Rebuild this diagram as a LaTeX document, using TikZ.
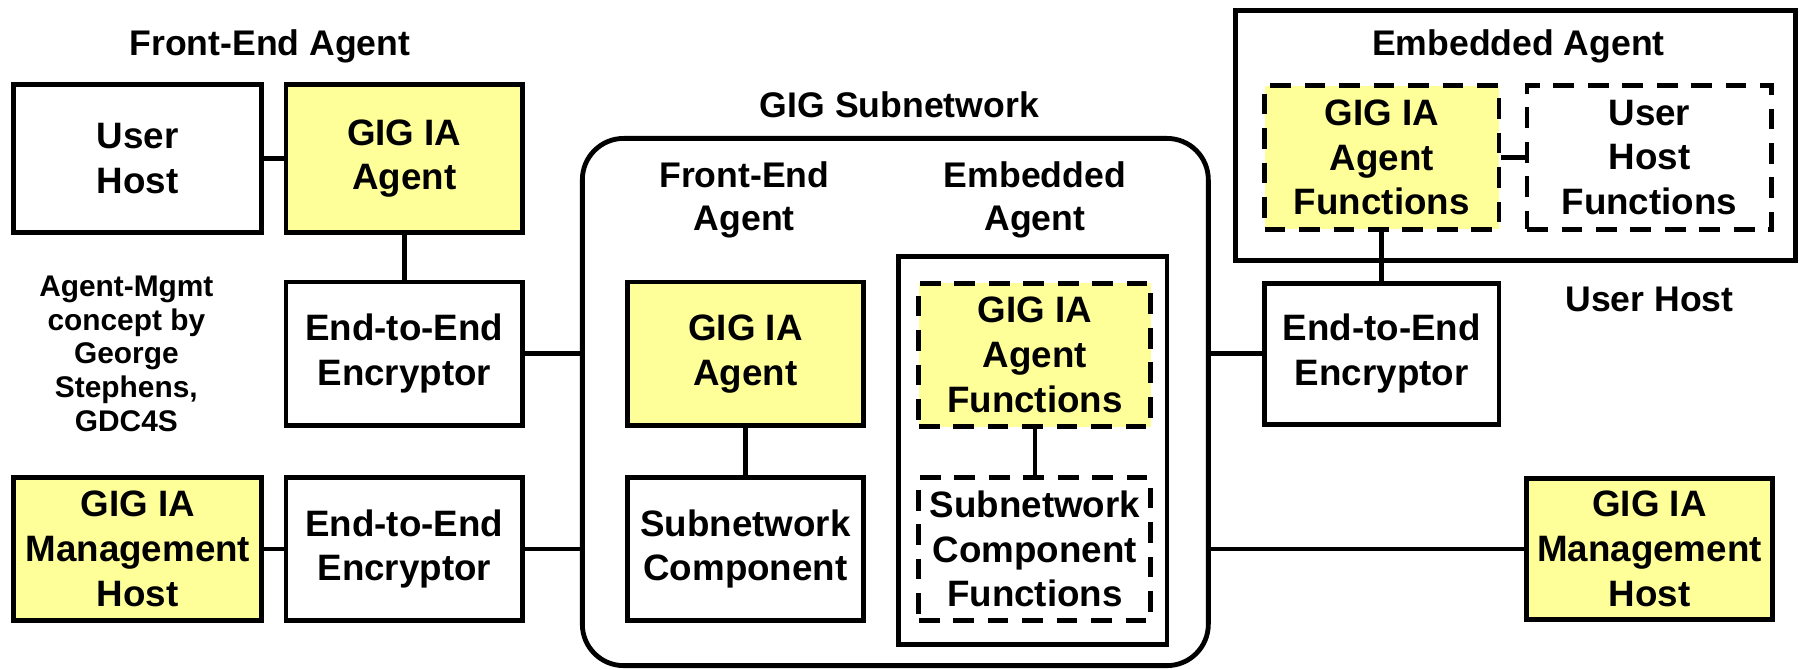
\documentclass[tikz,border=0pt]{standalone}
\usepackage{fontspec}
\setmainfont{Liberation Sans}
\definecolor{gigyellow}{HTML}{FFFF99}

\begin{document}
\begin{tikzpicture}[x=1pt,y=-1pt,line join=miter]
\tikzset{every node/.style={font=\fontsize{31}{37}\selectfont\bfseries,align=center,inner sep=0pt}}
\tikzset{box/.style={draw,line width=4.2pt,minimum width=206pt,minimum height=125pt,font=\fontsize{32}{39}\selectfont\bfseries},
  ybox/.style={box,fill=gigyellow},
  dbox/.style={box,dash pattern=on 18pt off 12pt},
  link/.style={line width=4pt}}
\useasboundingbox (0,0) rectangle (1568,583);
% front-end agent on the left
\node (feaT) at (235,40) {Front-End Agent};
\node[box,minimum width=216pt,minimum height=129pt] (uhost) at (120,138) {User\\Host};
\node[ybox,minimum height=129pt] (agentL) at (352,138) {GIG IA\\Agent};
\node[box] (e2eA) at (352,308) {End-to-End\\Encryptor};
\node[font=\fontsize{26}{29.5}\selectfont\bfseries] (note) at (110,308) {Agent-Mgmt\\concept by\\George\\Stephens,\\GDC4S};
\node[ybox,minimum width=216pt] (mgmtL) at (120,478) {GIG IA\\Management\\Host};
\node[box] (e2eB) at (352,478) {End-to-End\\Encryptor};
% subnetwork in the middle
\node (subT) at (783,91) {GIG Subnetwork};
\node[draw,line width=4.2pt,rounded corners=36pt,minimum width=545pt,minimum height=459pt] (subnet) at (779.5,350) {};
\node (feaM) at (648,174) {Front-End\\Agent};
\node (eaM) at (901,174) {Embedded\\Agent};
\node[ybox,minimum width=205pt] (agentM) at (649,308) {GIG IA\\Agent};
\node[box,minimum width=205pt] (compM) at (649,478) {Subnetwork\\Component};
\node[draw,line width=4.2pt,minimum width=234pt,minimum height=338pt] (embM) at (899,392) {};
\node[dbox,fill=gigyellow,minimum width=202pt] (funcM) at (901,309) {GIG IA\\Agent\\Functions};
\node[dbox,minimum width=202pt] (compfM) at (901,478) {Subnetwork\\Component\\Functions};
% embedded agent on the right
\node[draw,line width=4.2pt,minimum width=487pt,minimum height=218pt] (embR) at (1319.5,118) {};
\node (eaT) at (1322,40) {Embedded Agent};
\node[dbox,fill=gigyellow,minimum width=204pt] (funcR) at (1203,137) {GIG IA\\Agent\\Functions};
\node[dbox,minimum width=213pt] (uhostF) at (1436,137) {User\\Host\\Functions};
\node[box,minimum width=204pt,minimum height=123pt] (e2eC) at (1203,308) {End-to-End\\Encryptor};
\node (uhT) at (1436,261) {User Host};
\node[ybox,minimum width=214pt,minimum height=123pt] (mgmtR) at (1436,478) {GIG IA\\Management\\Host};
% links
\draw[link] (uhost) -- (agentL);
\draw[link] (agentL) -- (e2eA);
\draw[link] (e2eA.east) -- (e2eA.east -| subnet.west);
\draw[link] (mgmtL) -- (e2eB);
\draw[link] (e2eB.east) -- (e2eB.east -| subnet.west);
\draw[link] (agentM) -- (compM);
\draw[link] (funcM) -- (compfM);
\draw[link] (funcR) -- (uhostF);
\draw[link] (funcR) -- (e2eC);
\draw[link] (e2eC.west) -- (e2eC.west -| subnet.east);
\draw[link] (mgmtR.west) -- (mgmtR.west -| subnet.east);
\end{tikzpicture}
\end{document}
